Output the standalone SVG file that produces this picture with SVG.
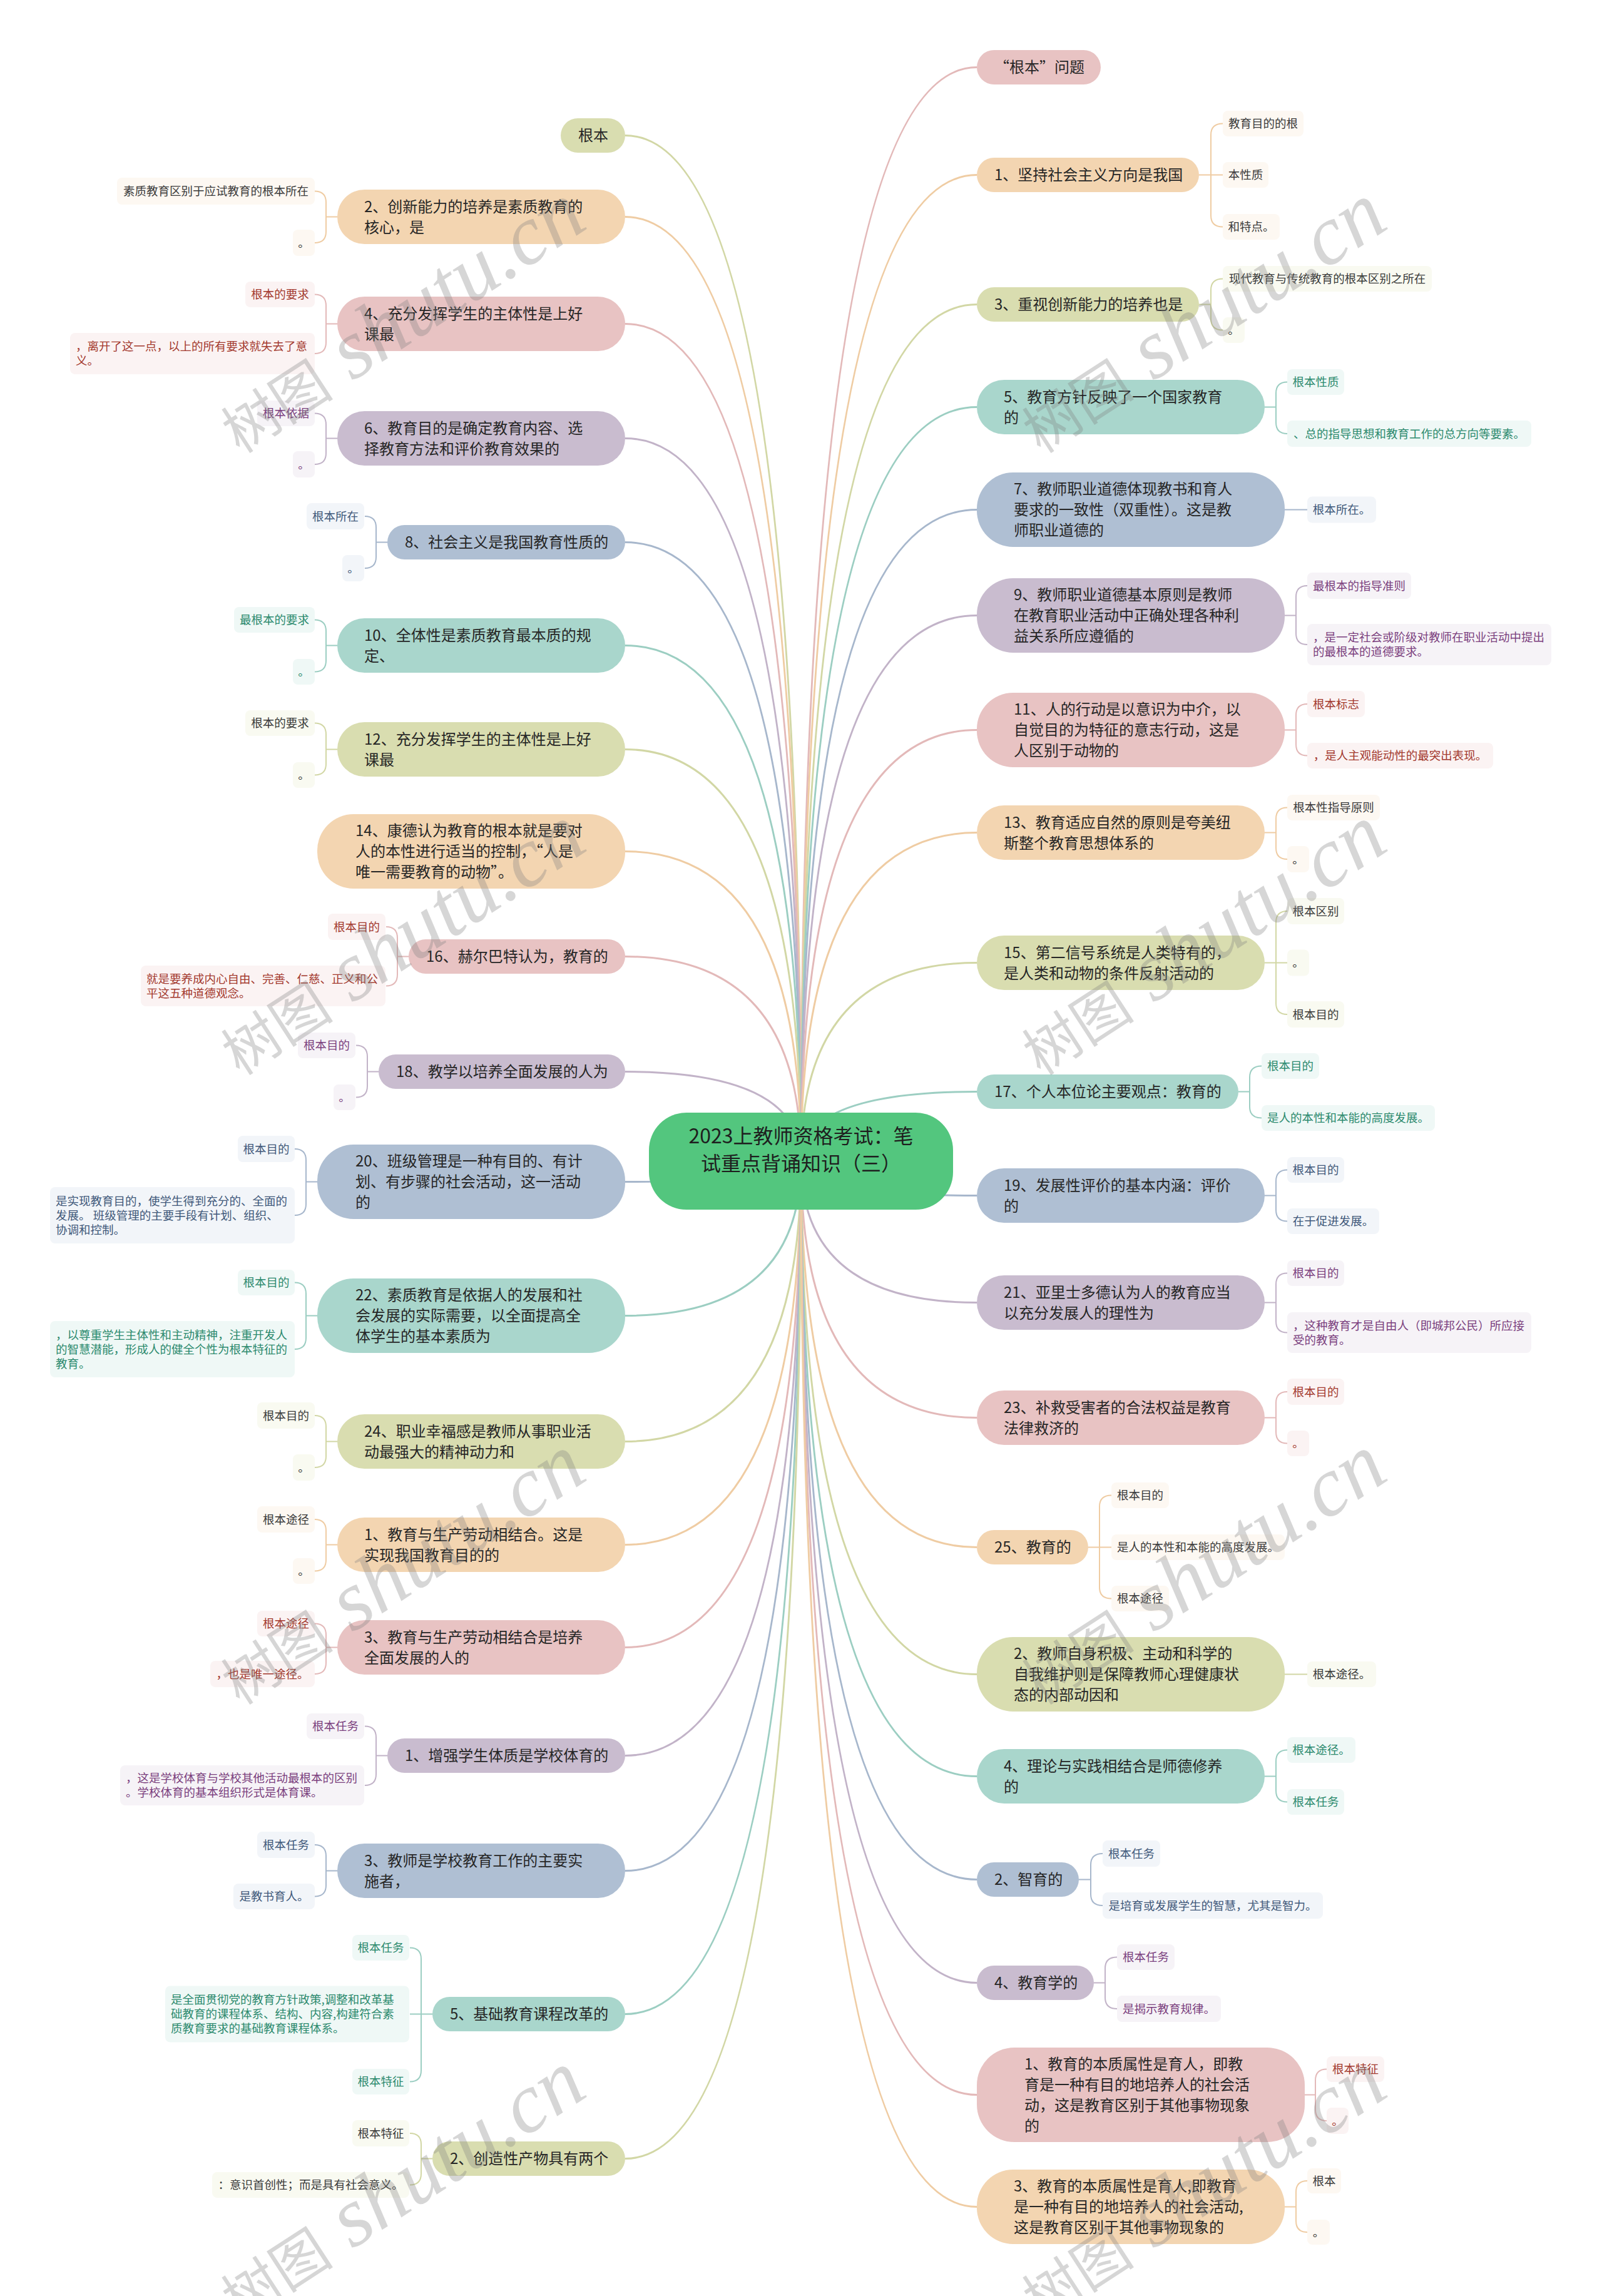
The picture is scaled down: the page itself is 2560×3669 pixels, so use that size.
<svg xmlns="http://www.w3.org/2000/svg" width="2560" height="3669" viewBox="0 0 2560 3669">
<style>
text{font-family:"Noto Sans CJK SC","Liberation Sans",sans-serif}
.t{font-size:24px;fill:#262626}
.s{font-size:18.5px}
.m{text-anchor:middle}
.root{font-size:32px;fill:#1e1e1e;text-anchor:middle}
.wm{font-family:"Liberation Serif","Noto Sans CJK SC",serif;fill:#808080;fill-opacity:0.32;text-anchor:middle}
.l{fill:none;stroke-width:3}
.c{fill:none;stroke-width:2}
.fP{fill:#f3d5b1}.fK{fill:#e8c3c3}.fL{fill:#c9bccf}.fB{fill:#afbfd3}.fT{fill:#a9d6cc}.fO{fill:#d9ddb0}
.sP{stroke:#efcca3}.sK{stroke:#e3b9b9}.sL{stroke:#c2b3c8}.sB{stroke:#a7b7cc}.sT{stroke:#9ccec2}.sO{stroke:#d2d7a5}
.bP{fill:#fdf8f2}.bK{fill:#fbf3f3}.bL{fill:#f6f3f7}.bB{fill:#f2f5f9}.bT{fill:#eff8f6}.bO{fill:#f9faf1}
.kP{fill:#3a3a3a}.kK{fill:#a3392e}.kL{fill:#7b3f7e}.kB{fill:#40587a}.kT{fill:#2c8a6e}.kO{fill:#3a3a3a}
</style>
<rect x="0" y="0" width="2560" height="3669" fill="#ffffff"/>
<g id="connectors">
<path class="l sO" d="M1280,1855 Q1280,216.5 999,216.5"/>
<path class="l sP" d="M1280,1855 Q1280,346.5 999,346.5"/>
<path class="l sK" d="M1280,1855 Q1280,517.5 999,517.5"/>
<path class="l sL" d="M1280,1855 Q1280,700.5 999,700.5"/>
<path class="l sB" d="M1280,1855 Q1280,866.5 999,866.5"/>
<path class="l sT" d="M1280,1855 Q1280,1031.5 999,1031.5"/>
<path class="l sO" d="M1280,1855 Q1280,1197.5 999,1197.5"/>
<path class="l sP" d="M1280,1855 Q1280,1360.5 999,1360.5"/>
<path class="l sK" d="M1280,1855 Q1280,1528.5 999,1528.5"/>
<path class="l sL" d="M1280,1855 Q1280,1712.5 999,1712.5"/>
<path class="l sB" d="M1280,1855 Q1280,1888.5 999,1888.5"/>
<path class="l sT" d="M1280,1855 Q1280,2102.5 999,2102.5"/>
<path class="l sO" d="M1280,1855 Q1280,2303.5 999,2303.5"/>
<path class="l sP" d="M1280,1855 Q1280,2468.5 999,2468.5"/>
<path class="l sK" d="M1280,1855 Q1280,2632.5 999,2632.5"/>
<path class="l sL" d="M1280,1855 Q1280,2805.5 999,2805.5"/>
<path class="l sB" d="M1280,1855 Q1280,2989.5 999,2989.5"/>
<path class="l sT" d="M1280,1855 Q1280,3218.5 999,3218.5"/>
<path class="l sO" d="M1280,1855 Q1280,3449.5 999,3449.5"/>
<path class="l sK" d="M1280,1855 Q1280,107.5 1561,107.5"/>
<path class="l sP" d="M1280,1855 Q1280,279.5 1561,279.5"/>
<path class="l sO" d="M1280,1855 Q1280,486.5 1561,486.5"/>
<path class="l sT" d="M1280,1855 Q1280,650.5 1561,650.5"/>
<path class="l sB" d="M1280,1855 Q1280,814.5 1561,814.5"/>
<path class="l sL" d="M1280,1855 Q1280,983.5 1561,983.5"/>
<path class="l sK" d="M1280,1855 Q1280,1166.5 1561,1166.5"/>
<path class="l sP" d="M1280,1855 Q1280,1330.5 1561,1330.5"/>
<path class="l sO" d="M1280,1855 Q1280,1538.5 1561,1538.5"/>
<path class="l sT" d="M1280,1855 Q1280,1744.5 1561,1744.5"/>
<path class="l sB" d="M1280,1855 Q1280,1910.5 1561,1910.5"/>
<path class="l sL" d="M1280,1855 Q1280,2081.5 1561,2081.5"/>
<path class="l sK" d="M1280,1855 Q1280,2265.5 1561,2265.5"/>
<path class="l sP" d="M1280,1855 Q1280,2472.5 1561,2472.5"/>
<path class="l sO" d="M1280,1855 Q1280,2675.5 1561,2675.5"/>
<path class="l sT" d="M1280,1855 Q1280,2838.5 1561,2838.5"/>
<path class="l sB" d="M1280,1855 Q1280,3003.5 1561,3003.5"/>
<path class="l sL" d="M1280,1855 Q1280,3168.5 1561,3168.5"/>
<path class="l sK" d="M1280,1855 Q1280,3347.5 1561,3347.5"/>
<path class="l sP" d="M1280,1855 Q1280,3526.5 1561,3526.5"/>
<path class="c sP" d="M539,346.5 H521 V323.5 Q521,305.5 503,305.5 M539,346.5 H521 V370 Q521,388 503,388"/>
<path class="c sK" d="M539,517.5 H521 V488.5 Q521,470.5 503,470.5 M539,517.5 H521 V547 Q521,565 503,565"/>
<path class="c sL" d="M539,700.5 H521 V678.5 Q521,660.5 503,660.5 M539,700.5 H521 V724 Q521,742 503,742"/>
<path class="c sB" d="M619,866.5 H601 V843 Q601,825 583,825 M619,866.5 H601 V890 Q601,908 583,908"/>
<path class="c sT" d="M539,1031.5 H521 V1008.5 Q521,990.5 503,990.5 M539,1031.5 H521 V1055.5 Q521,1073.5 503,1073.5"/>
<path class="c sO" d="M539,1197.5 H521 V1173.5 Q521,1155.5 503,1155.5 M539,1197.5 H521 V1220.5 Q521,1238.5 503,1238.5"/>
<path class="c sK" d="M653,1528.5 H635 V1499 Q635,1481 617,1481 M653,1528.5 H635 V1557.5 Q635,1575.5 617,1575.5"/>
<path class="c sL" d="M605,1712.5 H587 V1688.5 Q587,1670.5 569,1670.5 M605,1712.5 H587 V1735.5 Q587,1753.5 569,1753.5"/>
<path class="c sB" d="M507,1888.5 H489 V1854 Q489,1836 471,1836 M507,1888.5 H489 V1924 Q489,1942 471,1942"/>
<path class="c sT" d="M507,2102.5 H489 V2067.5 Q489,2049.5 471,2049.5 M507,2102.5 H489 V2138 Q489,2156 471,2156"/>
<path class="c sO" d="M539,2303.5 H521 V2280 Q521,2262 503,2262 M539,2303.5 H521 V2327 Q521,2345 503,2345"/>
<path class="c sP" d="M539,2468.5 H521 V2446 Q521,2428 503,2428 M539,2468.5 H521 V2492.5 Q521,2510.5 503,2510.5"/>
<path class="c sK" d="M539,2632.5 H521 V2612.5 Q521,2594.5 503,2594.5 M539,2632.5 H521 V2657 Q521,2675 503,2675"/>
<path class="c sL" d="M619,2805.5 H601 V2776.5 Q601,2758.5 583,2758.5 M619,2805.5 H601 V2835 Q601,2853 583,2853"/>
<path class="c sB" d="M539,2989.5 H521 V2966 Q521,2948 503,2948 M539,2989.5 H521 V3012.5 Q521,3030.5 503,3030.5"/>
<path class="c sT" d="M691,3218.5 H673 V3130.5 Q673,3112.5 655,3112.5 M691,3218.5 H655 M691,3218.5 H673 V3308.5 Q673,3326.5 655,3326.5"/>
<path class="c sO" d="M691,3449.5 H673 V3427 Q673,3409 655,3409 M691,3449.5 H673 V3473.5 Q673,3491.5 655,3491.5"/>
<path class="c sP" d="M1916,279.5 H1935 V215.5 Q1935,197.5 1954,197.5 M1916,279.5 H1954 M1916,279.5 H1935 V344.5 Q1935,362.5 1954,362.5"/>
<path class="c sO" d="M1916,486.5 H1935 V463.5 Q1935,445.5 1954,445.5 M1916,486.5 H1935 V509.5 Q1935,527.5 1954,527.5"/>
<path class="c sT" d="M2021,650.5 H2039 V628.5 Q2039,610.5 2057,610.5 M2021,650.5 H2039 V675 Q2039,693 2057,693"/>
<path class="c sB" d="M2053,814.5 H2089"/>
<path class="c sL" d="M2053,983.5 H2071 V954 Q2071,936 2089,936 M2053,983.5 H2071 V1012 Q2071,1030 2089,1030"/>
<path class="c sK" d="M2053,1166.5 H2071 V1143 Q2071,1125 2089,1125 M2053,1166.5 H2071 V1189.5 Q2071,1207.5 2089,1207.5"/>
<path class="c sP" d="M2021,1330.5 H2039 V1308.5 Q2039,1290.5 2057,1290.5 M2021,1330.5 H2039 V1355 Q2039,1373 2057,1373"/>
<path class="c sO" d="M2021,1538.5 H2039 V1474 Q2039,1456 2057,1456 M2021,1538.5 H2057 M2021,1538.5 H2039 V1603 Q2039,1621 2057,1621"/>
<path class="c sT" d="M1979,1744.5 H1997 V1721.5 Q1997,1703.5 2016,1703.5 M1979,1744.5 H1997 V1768.5 Q1997,1786.5 2016,1786.5"/>
<path class="c sB" d="M2021,1910.5 H2039 V1887.5 Q2039,1869.5 2057,1869.5 M2021,1910.5 H2039 V1933.5 Q2039,1951.5 2057,1951.5"/>
<path class="c sL" d="M2021,2081.5 H2039 V2052.5 Q2039,2034.5 2057,2034.5 M2021,2081.5 H2039 V2111.5 Q2039,2129.5 2057,2129.5"/>
<path class="c sK" d="M2021,2265.5 H2039 V2242 Q2039,2224 2057,2224 M2021,2265.5 H2039 V2288.5 Q2039,2306.5 2057,2306.5"/>
<path class="c sP" d="M1739,2472.5 H1757 V2407.5 Q1757,2389.5 1776,2389.5 M1739,2472.5 H1776 M1739,2472.5 H1757 V2536.5 Q1757,2554.5 1776,2554.5"/>
<path class="c sO" d="M2053,2675.5 H2089"/>
<path class="c sT" d="M2021,2838.5 H2039 V2814.5 Q2039,2796.5 2057,2796.5 M2021,2838.5 H2039 V2861.5 Q2039,2879.5 2057,2879.5"/>
<path class="c sB" d="M1724,3003.5 H1743 V2980 Q1743,2962 1762,2962 M1724,3003.5 H1743 V3027 Q1743,3045 1762,3045"/>
<path class="c sL" d="M1748,3168.5 H1766 V3145.5 Q1766,3127.5 1785,3127.5 M1748,3168.5 H1766 V3192 Q1766,3210 1785,3210"/>
<path class="c sK" d="M2085,3347.5 H2102 V3324.5 Q2102,3306.5 2120,3306.5 M2085,3347.5 H2102 V3371 Q2102,3389 2120,3389"/>
<path class="c sP" d="M2053,3526.5 H2071 V3503 Q2071,3485 2089,3485 M2053,3526.5 H2071 V3549 Q2071,3567 2089,3567"/>
</g>

<g id="root">
<rect x="1037" y="1778" width="486" height="155" rx="60" fill="#53c67e"/>
<text class="root" x="1280" y="1827">2023上教师资格考试：笔</text>
<text class="root" x="1280" y="1871">试重点背诵知识（三）</text>
</g>

<g id="L1"><rect class="fO" x="896" y="189" width="103" height="55" rx="27.5"/><text class="t" x="924" y="225">根本</text></g>

<g id="L2"><rect class="fP" x="539" y="303" width="460" height="87" rx="43.5"/><text class="t" x="582" y="338.5">2、创新能力的培养是素质教育的</text><text class="t" x="582" y="371.5">核心，是</text>
<rect class="bP" x="187" y="284" width="316" height="43" rx="8"/><text class="s m kP" x="345" y="312">素质教育区别于应试教育的根本所在</text>
<rect class="bP" x="468" y="367" width="35" height="42" rx="8"/><text class="s m kP" x="485.5" y="394.5">。</text></g>

<g id="L3"><rect class="fK" x="539" y="474" width="460" height="87" rx="43.5"/><text class="t" x="582" y="509.5">4、充分发挥学生的主体性是上好</text><text class="t" x="582" y="542.5">课最</text>
<rect class="bK" x="392" y="450" width="111" height="41" rx="8"/><text class="s m kK" x="447.5" y="477">根本的要求</text>
<rect class="bK" x="112" y="532" width="391" height="66" rx="8"/><text class="s kK" x="121" y="560">，离开了这一点，以上的所有要求就失去了意</text><text class="s kK" x="121" y="583">义。</text></g>

<g id="L4"><rect class="fL" x="539" y="657" width="460" height="87" rx="43.5"/><text class="t" x="582" y="692.5">6、教育目的是确定教育内容、选</text><text class="t" x="582" y="725.5">择教育方法和评价教育效果的</text>
<rect class="bL" x="411" y="640" width="92" height="41" rx="8"/><text class="s m kL" x="457" y="667">根本依据</text>
<rect class="bL" x="468" y="721" width="35" height="42" rx="8"/><text class="s m kL" x="485.5" y="748.5">。</text></g>

<g id="L5"><rect class="fB" x="619" y="839" width="380" height="55" rx="27.5"/><text class="t" x="647" y="875">8、社会主义是我国教育性质的</text>
<rect class="bB" x="490" y="804" width="92" height="42" rx="8"/><text class="s m kB" x="536" y="831.5">根本所在</text>
<rect class="bB" x="547" y="887" width="35" height="42" rx="8"/><text class="s m kB" x="564.5" y="914.5">。</text></g>

<g id="L6"><rect class="fT" x="539" y="988" width="460" height="87" rx="43.5"/><text class="t" x="582" y="1023.5">10、全体性是素质教育最本质的规</text><text class="t" x="582" y="1056.5">定、</text>
<rect class="bT" x="374" y="970" width="129" height="41" rx="8"/><text class="s m kT" x="438.5" y="997">最根本的要求</text>
<rect class="bT" x="468" y="1053" width="35" height="41" rx="8"/><text class="s m kT" x="485.5" y="1080">。</text></g>

<g id="L7"><rect class="fO" x="539" y="1154" width="460" height="87" rx="43.5"/><text class="t" x="582" y="1189.5">12、充分发挥学生的主体性是上好</text><text class="t" x="582" y="1222.5">课最</text>
<rect class="bO" x="392" y="1135" width="111" height="41" rx="8"/><text class="s m kO" x="447.5" y="1162">根本的要求</text>
<rect class="bO" x="468" y="1218" width="35" height="41" rx="8"/><text class="s m kO" x="485.5" y="1245">。</text></g>

<g id="L8"><rect class="fP" x="507" y="1301" width="492" height="119" rx="58"/><text class="t" x="568" y="1336">14、康德认为教育的根本就是要对</text><text class="t" x="568" y="1369">人的本性进行适当的控制，“人是</text><text class="t" x="568" y="1402">唯一需要教育的动物”。</text></g>

<g id="L9"><rect class="fK" x="653" y="1501" width="346" height="55" rx="27.5"/><text class="t" x="681" y="1537">16、赫尔巴特认为，教育的</text>
<rect class="bK" x="524" y="1460" width="92" height="42" rx="8"/><text class="s m kK" x="570" y="1487.5">根本目的</text>
<rect class="bK" x="225" y="1543" width="391" height="65" rx="8"/><text class="s kK" x="234" y="1570.5">就是要养成内心自由、完善、仁慈、正义和公</text><text class="s kK" x="234" y="1593.5">平这五种道德观念。</text></g>

<g id="L10"><rect class="fL" x="605" y="1685" width="394" height="55" rx="27.5"/><text class="t" x="633" y="1721">18、教学以培养全面发展的人为</text>
<rect class="bL" x="476" y="1650" width="92" height="41" rx="8"/><text class="s m kL" x="522" y="1677">根本目的</text>
<rect class="bL" x="533" y="1733" width="35" height="41" rx="8"/><text class="s m kL" x="550.5" y="1760">。</text></g>

<g id="L11"><rect class="fB" x="507" y="1829" width="492" height="119" rx="58"/><text class="t" x="568" y="1864">20、班级管理是一种有目的、有计</text><text class="t" x="568" y="1897">划、有步骤的社会活动，这一活动</text><text class="t" x="568" y="1930">的</text>
<rect class="bB" x="380" y="1815" width="91" height="42" rx="8"/><text class="s m kB" x="425.5" y="1842.5">根本目的</text>
<rect class="bB" x="80" y="1897" width="391" height="90" rx="8"/><text class="s kB" x="89" y="1925.5">是实现教育目的，使学生得到充分的、全面的</text><text class="s kB" x="89" y="1948.5">发展。 班级管理的主要手段有计划、组织、</text><text class="s kB" x="89" y="1971.5">协调和控制。</text></g>

<g id="L12"><rect class="fT" x="507" y="2043" width="492" height="119" rx="58"/><text class="t" x="568" y="2078">22、素质教育是依据人的发展和社</text><text class="t" x="568" y="2111">会发展的实际需要，以全面提高全</text><text class="t" x="568" y="2144">体学生的基本素质为</text>
<rect class="bT" x="380" y="2029" width="91" height="41" rx="8"/><text class="s m kT" x="425.5" y="2056">根本目的</text>
<rect class="bT" x="80" y="2111" width="391" height="90" rx="8"/><text class="s kT" x="89" y="2139.5">，以尊重学生主体性和主动精神，注重开发人</text><text class="s kT" x="89" y="2162.5">的智慧潜能，形成人的健全个性为根本特征的</text><text class="s kT" x="89" y="2185.5">教育。</text></g>

<g id="L13"><rect class="fO" x="539" y="2260" width="460" height="87" rx="43.5"/><text class="t" x="582" y="2295.5">24、职业幸福感是教师从事职业活</text><text class="t" x="582" y="2328.5">动最强大的精神动力和</text>
<rect class="bO" x="411" y="2241" width="92" height="42" rx="8"/><text class="s m kO" x="457" y="2268.5">根本目的</text>
<rect class="bO" x="468" y="2324" width="35" height="42" rx="8"/><text class="s m kO" x="485.5" y="2351.5">。</text></g>

<g id="L14"><rect class="fP" x="539" y="2425" width="460" height="87" rx="43.5"/><text class="t" x="582" y="2460.5">1、教育与生产劳动相结合。这是</text><text class="t" x="582" y="2493.5">实现我国教育目的的</text>
<rect class="bP" x="411" y="2407" width="92" height="42" rx="8"/><text class="s m kP" x="457" y="2434.5">根本途径</text>
<rect class="bP" x="468" y="2490" width="35" height="41" rx="8"/><text class="s m kP" x="485.5" y="2517">。</text></g>

<g id="L15"><rect class="fK" x="539" y="2589" width="460" height="87" rx="43.5"/><text class="t" x="582" y="2624.5">3、教育与生产劳动相结合是培养</text><text class="t" x="582" y="2657.5">全面发展的人的</text>
<rect class="bK" x="411" y="2574" width="92" height="41" rx="8"/><text class="s m kK" x="457" y="2601">根本途径</text>
<rect class="bK" x="336" y="2654" width="167" height="42" rx="8"/><text class="s m kK" x="419.5" y="2681.5">，也是唯一途径。</text></g>

<g id="L16"><rect class="fL" x="619" y="2778" width="380" height="55" rx="27.5"/><text class="t" x="647" y="2814">1、增强学生体质是学校体育的</text>
<rect class="bL" x="490" y="2738" width="92" height="41" rx="8"/><text class="s m kL" x="536" y="2765">根本任务</text>
<rect class="bL" x="192" y="2821" width="390" height="64" rx="8"/><text class="s kL" x="201" y="2848">，这是学校体育与学校其他活动最根本的区别</text><text class="s kL" x="201" y="2871">。学校体育的基本组织形式是体育课。</text></g>

<g id="L17"><rect class="fB" x="539" y="2946" width="460" height="87" rx="43.5"/><text class="t" x="582" y="2981.5">3、教师是学校教育工作的主要实</text><text class="t" x="582" y="3014.5">施者，</text>
<rect class="bB" x="411" y="2927" width="92" height="42" rx="8"/><text class="s m kB" x="457" y="2954.5">根本任务</text>
<rect class="bB" x="373" y="3010" width="130" height="41" rx="8"/><text class="s m kB" x="438" y="3037">是教书育人。</text></g>

<g id="L18"><rect class="fT" x="691" y="3191" width="308" height="55" rx="27.5"/><text class="t" x="719" y="3227">5、基础教育课程改革的</text>
<rect class="bT" x="563" y="3092" width="91" height="41" rx="8"/><text class="s m kT" x="608.5" y="3119">根本任务</text>
<rect class="bT" x="264" y="3173.5" width="390" height="90" rx="8"/><text class="s kT" x="273" y="3202">是全面贯彻党的教育方针政策,调整和改革基</text><text class="s kT" x="273" y="3225">础教育的课程体系、结构、内容,构建符合素</text><text class="s kT" x="273" y="3248">质教育要求的基础教育课程体系。</text>
<rect class="bT" x="563" y="3306" width="91" height="41" rx="8"/><text class="s m kT" x="608.5" y="3333">根本特征</text></g>

<g id="L19"><rect class="fO" x="691" y="3422" width="308" height="55" rx="27.5"/><text class="t" x="719" y="3458">2、创造性产物具有两个</text>
<rect class="bO" x="563" y="3388" width="91" height="42" rx="8"/><text class="s m kO" x="608.5" y="3415.5">根本特征</text>
<rect class="bO" x="339" y="3471" width="315" height="41" rx="8"/><text class="s m kO" x="496.5" y="3498">：意识首创性；而是具有社会意义。</text></g>

<g id="R1"><rect class="fK" x="1561" y="80" width="198" height="55" rx="27.5"/><text class="t" x="1589" y="116">“根本”问题</text></g>

<g id="R2"><rect class="fP" x="1561" y="252" width="355" height="55" rx="27.5"/><text class="t" x="1589" y="288">1、坚持社会主义方向是我国</text>
<rect class="bP" x="1954" y="177" width="129" height="41" rx="8"/><text class="s m kP" x="2018.5" y="204">教育目的的根</text>
<rect class="bP" x="1954" y="259" width="73" height="41" rx="8"/><text class="s m kP" x="1990.5" y="286">本性质</text>
<rect class="bP" x="1954" y="342" width="91" height="41" rx="8"/><text class="s m kP" x="1999.5" y="369">和特点。</text></g>

<g id="R3"><rect class="fO" x="1561" y="459" width="355" height="55" rx="27.5"/><text class="t" x="1589" y="495">3、重视创新能力的培养也是</text>
<rect class="bO" x="1954" y="425" width="334" height="41" rx="8"/><text class="s m kO" x="2121" y="452">现代教育与传统教育的根本区别之所在</text>
<rect class="bO" x="1954" y="507" width="35" height="41" rx="8"/><text class="s m kO" x="1971.5" y="534">。</text></g>

<g id="R4"><rect class="fT" x="1561" y="607" width="460" height="87" rx="43.5"/><text class="t" x="1604" y="642.5">5、教育方针反映了一个国家教育</text><text class="t" x="1604" y="675.5">的</text>
<rect class="bT" x="2057" y="590" width="91" height="41" rx="8"/><text class="s m kT" x="2102.5" y="617">根本性质</text>
<rect class="bT" x="2057" y="672" width="390" height="42" rx="8"/><text class="s m kT" x="2252" y="699.5">、总的指导思想和教育工作的总方向等要素。</text></g>

<g id="R5"><rect class="fB" x="1561" y="755" width="492" height="119" rx="58"/><text class="t" x="1620" y="790">7、教师职业道德体现教书和育人</text><text class="t" x="1620" y="823">要求的一致性（双重性）。这是教</text><text class="t" x="1620" y="856">师职业道德的</text>
<rect class="bB" x="2089" y="793.5" width="110" height="42" rx="8"/><text class="s m kB" x="2144" y="821">根本所在。</text></g>

<g id="R6"><rect class="fL" x="1561" y="924" width="492" height="119" rx="58"/><text class="t" x="1620" y="959">9、教师职业道德基本原则是教师</text><text class="t" x="1620" y="992">在教育职业活动中正确处理各种利</text><text class="t" x="1620" y="1025">益关系所应遵循的</text>
<rect class="bL" x="2089" y="915" width="166" height="42" rx="8"/><text class="s m kL" x="2172" y="942.5">最根本的指导准则</text>
<rect class="bL" x="2089" y="997" width="390" height="66" rx="8"/><text class="s kL" x="2098" y="1025">，是一定社会或阶级对教师在职业活动中提出</text><text class="s kL" x="2098" y="1048">的最根本的道德要求。</text></g>

<g id="R7"><rect class="fK" x="1561" y="1107" width="492" height="119" rx="58"/><text class="t" x="1620" y="1142">11、人的行动是以意识为中介，以</text><text class="t" x="1620" y="1175">自觉目的为特征的意志行动，这是</text><text class="t" x="1620" y="1208">人区别于动物的</text>
<rect class="bK" x="2089" y="1104" width="92" height="42" rx="8"/><text class="s m kK" x="2135" y="1131.5">根本标志</text>
<rect class="bK" x="2089" y="1187" width="297" height="41" rx="8"/><text class="s m kK" x="2237.5" y="1214">，是人主观能动性的最突出表现。</text></g>

<g id="R8"><rect class="fP" x="1561" y="1287" width="460" height="87" rx="43.5"/><text class="t" x="1604" y="1322.5">13、教育适应自然的原则是夸美纽</text><text class="t" x="1604" y="1355.5">斯整个教育思想体系的</text>
<rect class="bP" x="2057" y="1270" width="148" height="41" rx="8"/><text class="s m kP" x="2131" y="1297">根本性指导原则</text>
<rect class="bP" x="2057" y="1352" width="35" height="42" rx="8"/><text class="s m kP" x="2074.5" y="1379.5">。</text></g>

<g id="R9"><rect class="fO" x="1561" y="1495" width="460" height="87" rx="43.5"/><text class="t" x="1604" y="1530.5">15、第二信号系统是人类特有的，</text><text class="t" x="1604" y="1563.5">是人类和动物的条件反射活动的</text>
<rect class="bO" x="2057" y="1435" width="91" height="42" rx="8"/><text class="s m kO" x="2102.5" y="1462.5">根本区别</text>
<rect class="bO" x="2057" y="1517.5" width="35" height="42" rx="8"/><text class="s m kO" x="2074.5" y="1545">。</text>
<rect class="bO" x="2057" y="1600" width="91" height="42" rx="8"/><text class="s m kO" x="2102.5" y="1627.5">根本目的</text></g>

<g id="R10"><rect class="fT" x="1561" y="1717" width="418" height="55" rx="27.5"/><text class="t" x="1589" y="1753">17、个人本位论主要观点：教育的</text>
<rect class="bT" x="2016" y="1683" width="92" height="41" rx="8"/><text class="s m kT" x="2062" y="1710">根本目的</text>
<rect class="bT" x="2016" y="1766" width="277" height="41" rx="8"/><text class="s m kT" x="2154.5" y="1793">是人的本性和本能的高度发展。</text></g>

<g id="R11"><rect class="fB" x="1561" y="1867" width="460" height="87" rx="43.5"/><text class="t" x="1604" y="1902.5">19、发展性评价的基本内涵：评价</text><text class="t" x="1604" y="1935.5">的</text>
<rect class="bB" x="2057" y="1849" width="91" height="41" rx="8"/><text class="s m kB" x="2102.5" y="1876">根本目的</text>
<rect class="bB" x="2057" y="1931" width="147" height="41" rx="8"/><text class="s m kB" x="2130.5" y="1958">在于促进发展。</text></g>

<g id="R12"><rect class="fL" x="1561" y="2038" width="460" height="87" rx="43.5"/><text class="t" x="1604" y="2073.5">21、亚里士多德认为人的教育应当</text><text class="t" x="1604" y="2106.5">以充分发展人的理性为</text>
<rect class="bL" x="2057" y="2014" width="91" height="41" rx="8"/><text class="s m kL" x="2102.5" y="2041">根本目的</text>
<rect class="bL" x="2057" y="2097" width="390" height="65" rx="8"/><text class="s kL" x="2066" y="2124.5">，这种教育才是自由人（即城邦公民）所应接</text><text class="s kL" x="2066" y="2147.5">受的教育。</text></g>

<g id="R13"><rect class="fK" x="1561" y="2222" width="460" height="87" rx="43.5"/><text class="t" x="1604" y="2257.5">23、补救受害者的合法权益是教育</text><text class="t" x="1604" y="2290.5">法律救济的</text>
<rect class="bK" x="2057" y="2203" width="91" height="42" rx="8"/><text class="s m kK" x="2102.5" y="2230.5">根本目的</text>
<rect class="bK" x="2057" y="2286" width="35" height="41" rx="8"/><text class="s m kK" x="2074.5" y="2313">。</text></g>

<g id="R14"><rect class="fP" x="1561" y="2445" width="178" height="55" rx="27.5"/><text class="t" x="1589" y="2481">25、教育的</text>
<rect class="bP" x="1776" y="2369" width="92" height="41" rx="8"/><text class="s m kP" x="1822" y="2396">根本目的</text>
<rect class="bP" x="1776" y="2452" width="277" height="41" rx="8"/><text class="s m kP" x="1914.5" y="2479">是人的本性和本能的高度发展。</text>
<rect class="bP" x="1776" y="2534" width="92" height="41" rx="8"/><text class="s m kP" x="1822" y="2561">根本途径</text></g>

<g id="R15"><rect class="fO" x="1561" y="2616" width="492" height="119" rx="58"/><text class="t" x="1620" y="2651">2、教师自身积极、主动和科学的</text><text class="t" x="1620" y="2684">自我维护则是保障教师心理健康状</text><text class="t" x="1620" y="2717">态的内部动因和</text>
<rect class="bO" x="2089" y="2655" width="110" height="41" rx="8"/><text class="s m kO" x="2144" y="2682">根本途径。</text></g>

<g id="R16"><rect class="fT" x="1561" y="2795" width="460" height="87" rx="43.5"/><text class="t" x="1604" y="2830.5">4、理论与实践相结合是师德修养</text><text class="t" x="1604" y="2863.5">的</text>
<rect class="bT" x="2057" y="2776" width="109" height="41" rx="8"/><text class="s m kT" x="2111.5" y="2803">根本途径。</text>
<rect class="bT" x="2057" y="2859" width="91" height="41" rx="8"/><text class="s m kT" x="2102.5" y="2886">根本任务</text></g>

<g id="R17"><rect class="fB" x="1561" y="2976" width="163" height="55" rx="27.5"/><text class="t" x="1589" y="3012">2、智育的</text>
<rect class="bB" x="1762" y="2941" width="92" height="42" rx="8"/><text class="s m kB" x="1808" y="2968.5">根本任务</text>
<rect class="bB" x="1762" y="3024" width="352" height="42" rx="8"/><text class="s m kB" x="1938" y="3051.5">是培育或发展学生的智慧，尤其是智力。</text></g>

<g id="R18"><rect class="fL" x="1561" y="3141" width="187" height="55" rx="27.5"/><text class="t" x="1589" y="3177">4、教育学的</text>
<rect class="bL" x="1785" y="3107" width="92" height="41" rx="8"/><text class="s m kL" x="1831" y="3134">根本任务</text>
<rect class="bL" x="1785" y="3189" width="166" height="42" rx="8"/><text class="s m kL" x="1868" y="3216.5">是揭示教育规律。</text></g>

<g id="R19"><rect class="fK" x="1561" y="3272" width="524" height="151" rx="60"/><text class="t" x="1637" y="3306.5">1、教育的本质属性是育人，即教</text><text class="t" x="1637" y="3339.5">育是一种有目的地培养人的社会活</text><text class="t" x="1637" y="3372.5">动，这是教育区别于其他事物现象</text><text class="t" x="1637" y="3405.5">的</text>
<rect class="bK" x="2120" y="3286" width="92" height="41" rx="8"/><text class="s m kK" x="2166" y="3313">根本特征</text>
<rect class="bK" x="2120" y="3368" width="35" height="42" rx="8"/><text class="s m kK" x="2137.5" y="3395.5">。</text></g>

<g id="R20"><rect class="fP" x="1561" y="3467" width="492" height="119" rx="58"/><text class="t" x="1620" y="3502">3、教育的本质属性是育人,即教育</text><text class="t" x="1620" y="3535">是一种有目的地培养人的社会活动,</text><text class="t" x="1620" y="3568">这是教育区别于其他事物现象的</text>
<rect class="bP" x="2089" y="3465" width="54" height="40" rx="8"/><text class="s m kP" x="2116" y="3491.5">根本</text>
<rect class="bP" x="2089" y="3547" width="36" height="40" rx="8"/><text class="s m kP" x="2107" y="3573.5">。</text></g>

<g id="watermarks">
<text class="wm" transform="translate(644,515) rotate(-33)" y="35"><tspan font-size="90">树图</tspan><tspan font-size="135" font-style="italic"> shutu.cn</tspan></text>
<text class="wm" transform="translate(1924,515) rotate(-33)" y="35"><tspan font-size="90">树图</tspan><tspan font-size="135" font-style="italic"> shutu.cn</tspan></text>
<text class="wm" transform="translate(644,1509) rotate(-33)" y="35"><tspan font-size="90">树图</tspan><tspan font-size="135" font-style="italic"> shutu.cn</tspan></text>
<text class="wm" transform="translate(1924,1509) rotate(-33)" y="35"><tspan font-size="90">树图</tspan><tspan font-size="135" font-style="italic"> shutu.cn</tspan></text>
<text class="wm" transform="translate(644,2515) rotate(-33)" y="35"><tspan font-size="90">树图</tspan><tspan font-size="135" font-style="italic"> shutu.cn</tspan></text>
<text class="wm" transform="translate(1924,2515) rotate(-33)" y="35"><tspan font-size="90">树图</tspan><tspan font-size="135" font-style="italic"> shutu.cn</tspan></text>
<text class="wm" transform="translate(644,3500) rotate(-33)" y="35"><tspan font-size="90">树图</tspan><tspan font-size="135" font-style="italic"> shutu.cn</tspan></text>
<text class="wm" transform="translate(1924,3500) rotate(-33)" y="35"><tspan font-size="90">树图</tspan><tspan font-size="135" font-style="italic"> shutu.cn</tspan></text>
</g>
</svg>
